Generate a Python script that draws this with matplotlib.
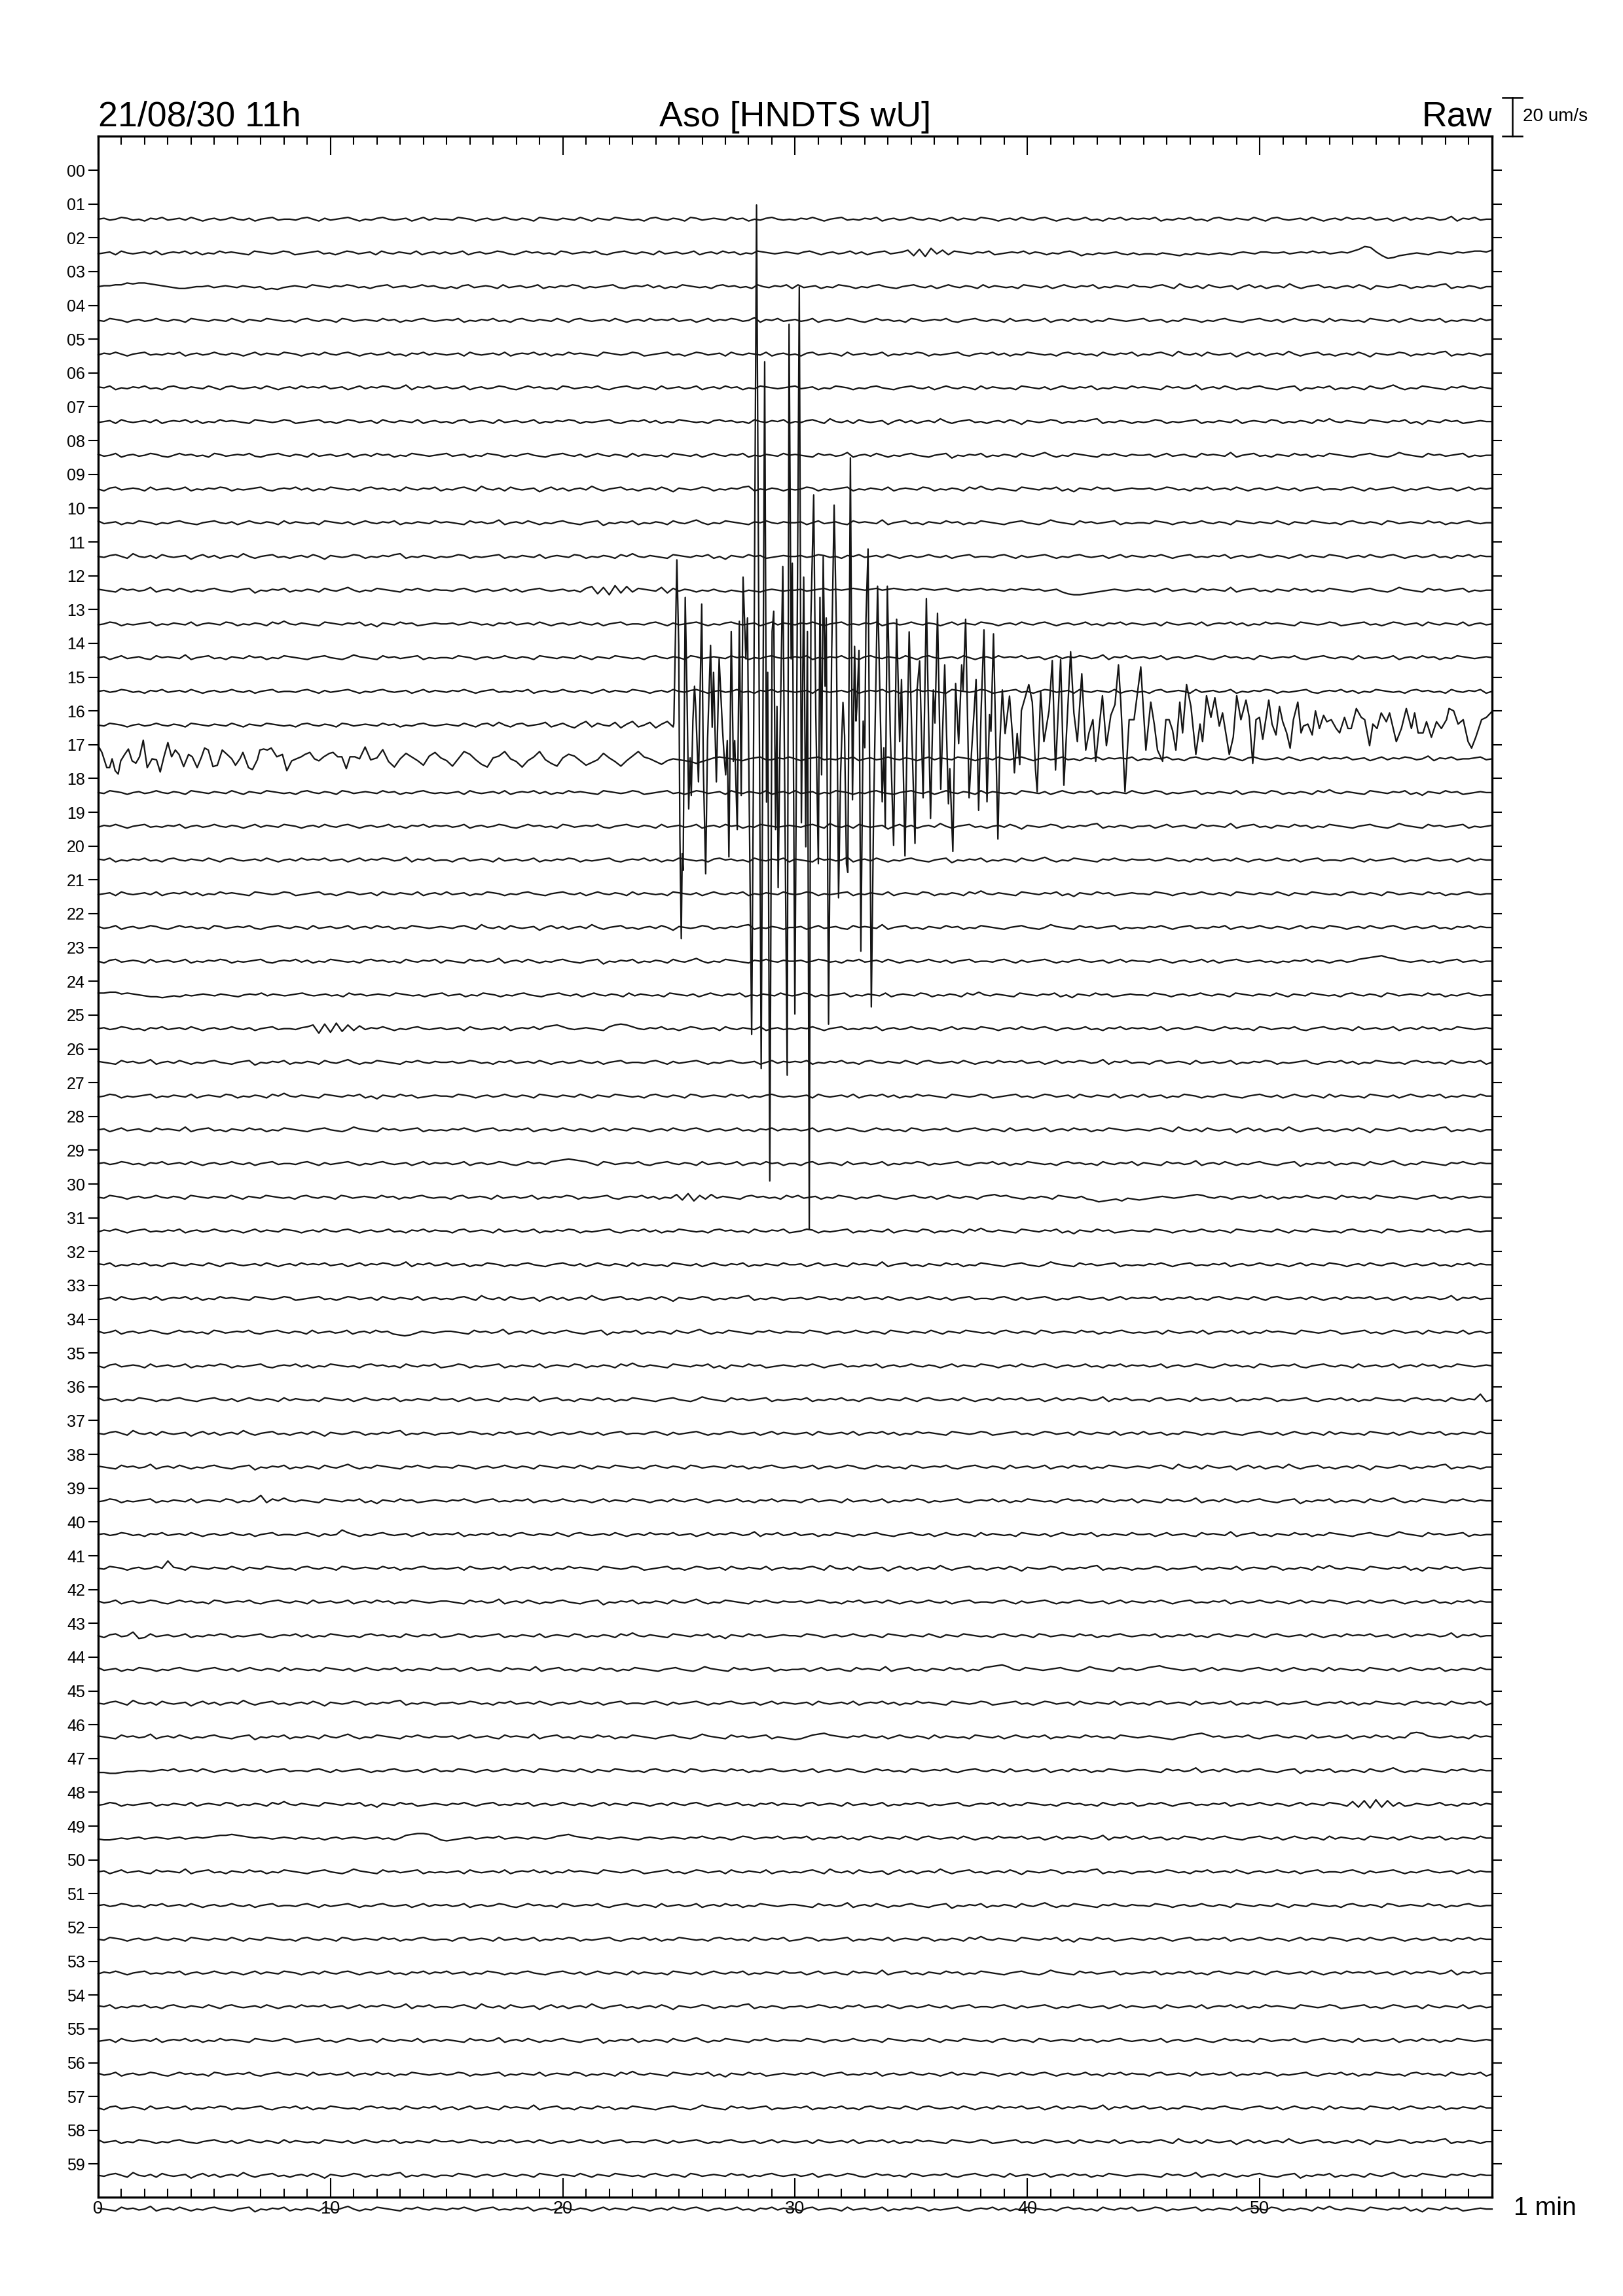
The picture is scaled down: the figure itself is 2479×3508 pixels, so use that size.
import numpy as np
import matplotlib.pyplot as plt

plt.rcParams['font.family'] = ['Liberation Sans', 'DejaVu Sans']

# header / footer text
date_label = '21/08/30 11h'
station_label = 'Aso [HNDTS wU]'
mode_label = 'Raw'
scale_label = '20 um/s'
time_label = '1 min'

row_labels = ['%02d' % i for i in range(60)]
minute_ticks = [0, 10, 20, 30, 40, 50]

# traces are written one character per 15 s sample: 'm' = baseline,
# each letter step = 0.027 row (about 0.47 um/s)
code_step = 0.027
scale_um = 20.0
um_per_row = 17.5

seg_a = "mnlmonlmknmolmnlomkmnlmomlnkmnolmmlnomknlmnomkmlnomlmnkmolnm"
seg_b = "mlonmkmnlmomlnmkonmlnmlomknmlonmlmknomlnmkonlmnmlomnkmlnomlm"
seg_c = "lnmomkmnolmlnmokmnlmomlnmkmolnmlonmkmnlomlnomkmnlmolmknmolnm"
seg_d = "nmokmlnmolmknomlnmlomknomlmnlomkmnlomnmolmnkmolnmonlmpknmolm"
seg_e = "lmnkomlmnlokmnmolnkmlomnmlkonmlmonklmnolmkmonlmnkomlnmlokmnl"
seg_f = "nlmokmnlmonlkmomnlmkonlmnmolkmnomlnmkolmnlmokmnlomnkmlonmlmn"
seg_g = "mknolmnmkolmnlmokmlnmonkmlmnolkmnmolnkmlonmlmknomnlmkomlnmok"
seg_h = "olmnkmlonmkmlnomlkmnomlnkmomlnmkolnmlmkonmlnkmomlnmokmlnmlom"
seg_i = "mlnomkpmlnkomlmnjmolnkmnlpmkmnolmkmnlomjnmlmonkmlnmopkmlnmkm"
seg_j = "nmlkomnlmpkmnlomkmlnomlkmnojmlnmokmlnmkomlnpmkmlonmlknmomlnm"
seg_k = "lmonkmlmnokmlnmlokmnmlonkmlnmkompmlnmlkonmlnmokmjnmlomnklmnm"
seg_l = "mnkmolmnlkomnmlpkmnolmknmlomnkmlonmlkmnomlkmpnmlkomnlmnokmlm"

trace_codes = [
    seg_a + seg_b + seg_c + seg_d + "m",
    seg_e + seg_f + "mlnomkmnlmolnkmnolmnpjqirlpkonmlnmoklmnmolnmkmlnomjlkmlmnlkm"
    + "kllkmlkjlkmlklmlkmnmlnnmmnlmnmomnlmnmoqtsnjghjklmlkmnmlnmnoon" + "p",
    "mnnooqpqqponmlkklmmnlmnmlnmlmjkjlmnmlonmlnmonlmkmnolmnlmomnlk" + seg_g + seg_h + seg_i + "m",
    seg_b + seg_d + seg_f + seg_h + "n",
    seg_c + seg_e + seg_g + seg_i + "m",
    seg_d + seg_f + seg_h + seg_j + "l",
    seg_e + seg_g + seg_i + seg_k + "m",
    seg_f + seg_h + seg_j + seg_l + "m",
    seg_g + seg_i + seg_k + seg_a + "n",
    seg_h + seg_j + seg_l + seg_b + "m",
    seg_i + seg_k + seg_a + seg_c + "m",
    seg_j + "mlnomkmnlmolnkmnomlmnlmkoqiphrjqkonmlpjolnmkmlnlkmlkmlkmnmlm"
    + "mnlmnomnmnonmnomnonmnmonmnomlnmnomnmlnmonmnlmnkihhijklmnmlmn" + seg_l + "m",
    seg_k + seg_a + seg_c + seg_e + "m",
    seg_l + seg_b + seg_d + seg_f + "m",
    seg_a + seg_c + seg_e + seg_g + "m",
    # 15: quiet part only (0 - 24.75 min), the event follows below
    seg_b + "nmlomknolpmknolmnpkmoljnqkomlpjnqkmpjnqk",
    # 16: from 12 min to the end, the first 12 min follow below
    "nwjdmsokfptnkemurlgdnpumjdkoulhenrpkfilsnjekpuomjgkm" + "lkjhjlnonmlkmnol" + seg_c + seg_d + "mnolm",
    seg_b + seg_e + seg_h + seg_k + "m",
    seg_c + seg_f + seg_i + seg_l + "n",
    seg_d + seg_g + seg_j + seg_a + "m",
    seg_e + seg_h + seg_k + seg_b + "m",
    seg_f + seg_i + seg_l + seg_c + "m",
    seg_g + seg_j + seg_a + "mlnomkmnlmolnkmnomlmnlmkmlnmolnmkmnlmopqrsqpnmlmnlmkmnolmnlm" + "m",
    "ooppnonmlkkjklkmlmnmlnmlkmnmolnmlmnomlmnlmkomnlmnmlonmlmkmn" + seg_h + seg_k + seg_b + "m",
    "mnlmonlmknmolmnlomkmnlmomlnkmnolmmlnoqhrisjqkplnmomkmlnomlmn"
    + "lmnkomlmnlokmnmolopqomlmnmlkoqrqomlnmolmkmonlmnkomlnmlokmnlm" + seg_c + seg_f + "m",
    seg_j + seg_a + seg_d + seg_g + "m",
    seg_k + seg_b + seg_e + seg_h + "m",
    seg_l + seg_c + seg_f + seg_i + "m",
    seg_a + "nlmokmnlmonlkmomnlopqrqpomkonlmnmolkmnomlnmkolmnlmokmnlomnkm" + seg_g + seg_j + "m",
    seg_b + "mknolmnmkolmnlmokmlnmonkmlmnolkmnmolnkmlpjqiokplnmlknomnlmkom"
    + "olmnkmlonmkmlnomlkmnomlnkmomlnmknopnomlkmlnmkonmlnkjhijkilkj"
    + "klmnmlmnopomlnmkmnlmolnkmlnmomlnmkomnlmkonmlnmlkmnolmkmnlmnm" + "m",
    seg_c + seg_g + seg_k + seg_b + "m",
    seg_d + seg_h + seg_l + seg_c + "m",
    seg_e + seg_i + seg_a + seg_d + "m",
    "nlmokmnlmonlkmomnlmkonlmnmolkmnomlnmkolmnlmokmnlomnkjijlnmlmn" + seg_j + seg_b + seg_e + "m",
    seg_g + seg_k + seg_c + seg_f + "m",
    seg_h + seg_l + seg_d + "mknolmnmkolmnlmokmlnmonkmlmnolkmnmolnkmlonmlmknomnlmkomlnmsk" + "m",
    seg_i + seg_a + seg_e + seg_h + "m",
    seg_j + seg_b + seg_f + seg_i + "m",
    "lmonkmlmnokmlnmlokmnmlonkmlnskompmlnmlkonmlnmokmjnmlomnklmnm" + seg_c + seg_g + seg_j + "m",
    "mnlmonlmknmolmnlomkmnlmomlnkmnolmmlnomknlmromkmlnomlmnkmolnm" + seg_d + seg_h + seg_l + "m",
    "mlonmkmnlmomunmkonmlnmlomknmlonmlmknomlnmkonlmnmlomnkmlnomlm" + seg_e + seg_i + seg_k + "m",
    seg_f + seg_j + seg_a + seg_c + "m",
    "mknolmqjkolmnlmokmlnmonkmlmnolkmnmolnkmlonmlmknomnlmkomlnmok" + seg_k + seg_b + seg_d + "m",
    seg_h + seg_l + "mnkmolmnlkomnmlpkmnolmknmlomnkmlopqrpmlonmlmnomlkmpnmlkomnlm"
    + "opqonmlmnkmolnmlkmnomlnkmomlnmkolnmlmkonmlnkmomlnmokmlnmlom" + "m",
    seg_i + seg_a + seg_e + seg_g + "m",
    seg_j + "mnkmolmnlkomnmlpkmnolmknmlomnkmlonmlkmnomlkmpnmlkomnlmnokmlk"
    + "jkmopqonmlnmomlnkmomlnmkolnmlmkonmlnkmomlnmokmlnmlomnlmkonml"
    + "mnmlkjlmopqomnlmnmolkmnomlnmkolmnlmokmnlomnkmlqrqnmlmnlmkomn" + "m",
    "kkjjkllmmlmnmolmnlomkmnlmomlnkmnolmmlnomknlmnomkmlnomlmnkmol" + seg_b + seg_f + seg_j + "m",
    seg_k + seg_c + seg_g + "lnmomkmnolmlnmokmnlmomlnmkmolnmlonmkpjqirjqkoklnmlmolmknmoln" + "m",
    "lkklmlmnlmnmlmnlmnmnoppqponmnmlmnmlnmlmkmnlmnmlmnlmkmpqrrqnk"
    + "jklmnlmnmolmnmlnmlmopqonmlnmlmnmlkmnmlmnmlnmomlnmkmonlmnmolm" + seg_d + seg_h + "m",
    seg_l + seg_e + seg_i + seg_a + "m",
    seg_a + seg_f + seg_j + seg_b + "m",
    seg_b + seg_g + seg_k + seg_c + "m",
    seg_c + seg_h + seg_l + seg_d + "m",
    seg_d + seg_i + seg_a + seg_e + "m",
    seg_e + seg_j + seg_b + seg_f + "m",
    seg_f + seg_k + seg_c + seg_g + "m",
    seg_g + seg_l + seg_d + seg_h + "m",
    seg_h + seg_a + seg_e + seg_i + "m",
    seg_i + seg_b + seg_f + seg_j + "m",
    seg_j + seg_c + seg_g + seg_k + "m",
]

# trace 15: the big event, minutes and offsets in rows (up = positive)
event_t = [24.78, 24.91, 24.99, 25.04, 25.10, 25.14, 25.18, 25.27, 25.35, 25.42,
           25.48, 25.53, 25.60, 25.67, 25.72, 25.84, 25.98, 26.05, 26.15, 26.23,
           26.36, 26.43, 26.49, 26.61, 26.73, 26.87, 26.94, 27.01, 27.08, 27.15,
           27.25, 27.34, 27.40, 27.51, 27.60, 27.68, 27.76, 27.88, 27.95, 28.00,
           28.13, 28.20, 28.34, 28.54, 28.69, 28.77, 28.82, 28.91, 29.01, 29.08,
           29.16, 29.22, 29.27, 29.35, 29.47, 29.66, 29.74, 29.83, 29.88, 29.99,
           30.18, 30.27, 30.37, 30.46, 30.53, 30.61, 30.68, 30.80, 30.89, 31.00,
           31.07, 31.14, 31.21, 31.29, 31.34, 31.44, 31.57, 31.68, 31.77, 31.87,
           31.96, 32.06, 32.13, 32.21, 32.27, 32.38, 32.47, 32.56, 32.62, 32.66,
           32.75, 32.83, 32.93, 33.00, 33.05, 33.14, 33.28, 33.38, 33.55, 33.75,
           33.82, 33.88, 33.97, 34.03, 34.10, 34.24, 34.37, 34.50, 34.58, 34.73,
           34.82, 34.91, 35.03, 35.16, 35.25, 35.36, 35.51, 35.65, 35.74, 35.83,
           35.95, 36.02, 36.13, 36.27, 36.44, 36.60, 36.66, 36.79, 36.91, 37.04,
           37.17, 37.23, 37.34, 37.49, 37.60, 37.79, 37.90, 38.01, 38.13, 38.26,
           38.37, 38.43, 38.54, 38.73, 38.82, 38.92, 39.04, 39.23, 39.37, 39.44,
           39.56, 39.67, 39.74, 40.06, 40.21, 40.35, 40.42, 40.57, 40.71, 40.93,
           41.07, 41.21, 41.43, 41.57, 41.86, 42.00, 42.15, 42.34, 42.51, 42.65,
           42.82, 42.94, 43.23, 43.40, 43.59, 43.77, 43.92, 44.02, 44.20, 44.38,
           44.59, 44.88, 45.10, 45.31, 45.46, 45.60, 45.82, 45.96, 46.10, 46.25,
           46.39, 46.56, 46.68, 46.85, 47.04, 47.25, 47.43, 47.54, 47.71, 47.90,
           48.07, 48.26, 48.40, 48.69, 48.86, 49.01, 49.19, 49.41, 49.55, 49.70,
           49.84, 49.99, 50.13, 50.39, 50.53, 50.70, 50.85, 50.99, 51.16, 51.31,
           51.45, 51.64, 51.78, 51.88, 52.07, 52.26, 52.40, 52.57, 52.75, 52.89,
           53.08, 53.29, 53.44, 53.65, 53.80, 53.94, 54.16, 54.37, 54.52, 54.73,
           54.87, 55.05, 55.23, 55.45, 55.59, 55.88, 56.10, 56.31, 56.53, 56.67,
           56.82, 57.03, 57.18, 57.39, 57.61, 57.82, 58.04, 58.15, 58.35, 58.54,
           58.76, 58.97, 59.12, 59.30, 59.55, 59.76, 59.98]
event_v = [0.05, 4.89, 2.36, -3.29, -6.32, -3.80, -4.30, 3.78, 0.75, -2.48,
           -0.97, -2.08, 0.14, 1.15, 0.55, -1.68, 3.58, -1.27, -4.40, -0.46,
           2.36, -0.06, 1.56, -1.68, 1.96, -0.06, -0.87, -1.47, -0.46, -3.90,
           2.77, -1.07, -0.46, -3.09, 3.07, -2.08, 4.38, 1.96, 3.17, -0.67,
           -9.15, -2.08, 15.39, -10.16, 10.75, -2.28, 1.56, -13.49, 2.77, 3.37,
           -3.09, 0.55, -4.81, -0.46, 4.69, -10.36, 11.86, 1.96, 4.79, -8.55,
           12.97, -2.89, 4.38, -3.60, 2.77, -14.91, 3.17, 6.81, 0.34, -4.10,
           3.78, -1.47, 4.99, 1.15, 3.17, -8.85, 1.96, 6.51, 3.17, -5.11,
           -1.41, 0.67, -0.31, -4.11, -4.36, 7.91, -2.21, 2.33, 0.12, 0.55,
           2.21, -6.69, 0.12, -0.67, 3.13, 5.21, -8.34, -2.52, 4.11, -2.27,
           -0.67, -3.01, 4.11, 2.15, -0.31, -3.56, 3.13, -0.49, 1.35, -3.87,
           -0.43, 2.76, -0.43, -3.50, 1.04, 1.90, -2.15, 3.74, 0.31, -2.76,
           1.04, 0.06, 3.31, -1.90, 1.78, -2.33, -1.29, -3.74, 1.23, -0.55,
           1.78, 1.04, 3.13, -2.15, -0.74, 1.35, -2.52, 0.49, 2.82, -2.27,
           0.31, -0.18, 2.70, -3.37, -0.43, 1.04, -0.25, 0.86, -0.43, -1.41,
           -0.25, -1.17, 0.43, 1.20, 0.68, -1.33, -1.97, 1.00, -0.49, 0.42,
           1.91, -1.33, 1.94, -1.78, 2.17, 0.36, -0.49, 1.52, -0.74, -0.23,
           0.16, -1.07, 0.87, -0.61, 0.29, 0.61, 1.78, 0.68, -1.97, 0.16,
           0.16, 1.72, -0.74, 0.68, 0.03, -0.74, -1.07, 0.16, 0.16, -0.16,
           -0.74, 0.68, -0.23, 1.20, 0.55, -0.87, 0.03, -0.49, 0.87, 0.23,
           0.81, -0.03, 0.36, -0.87, -0.36, 0.87, 0.16, 0.74, 0.23, -1.13,
           0.16, 0.23, -0.42, 0.74, 0.03, -0.29, 0.55, 0.10, -0.23, -0.68,
           0.16, 0.68, -0.23, -0.03, 0.03, -0.29, 0.42, -0.10, 0.29, 0.10,
           0.16, -0.10, -0.23, 0.23, -0.10, -0.10, 0.49, 0.23, 0.16, -0.61,
           0.03, -0.10, 0.36, 0.10, 0.36, -0.49, -0.10, 0.49, -0.10, 0.36,
           -0.23, -0.23, 0.10, -0.36, 0.10, -0.10, 0.16, 0.49, 0.42, 0.03,
           0.16, -0.49, -0.68, -0.36, 0.16, 0.23, 0.39]

# trace 16: coda of the event during its first 12 minutes
coda_t = [0.03, 0.16, 0.37, 0.49, 0.60, 0.73, 0.86, 0.97, 1.14, 1.30,
          1.46, 1.62, 1.78, 1.94, 2.11, 2.32, 2.51, 2.67, 2.83, 3.00,
          3.16, 3.32, 3.48, 3.68, 3.89, 4.05, 4.26, 4.45, 4.58, 4.74,
          4.94, 5.13, 5.34, 5.55, 5.75, 5.91, 6.10, 6.23, 6.47, 6.64,
          6.85, 6.96, 7.12, 7.28, 7.45, 7.69, 7.93, 8.12, 8.33, 8.53,
          8.74, 8.90, 9.11, 9.31, 9.50, 9.71, 9.95, 10.11, 10.31, 10.49,
          10.68, 10.84, 11.05, 11.25, 11.49, 11.73]
coda_v = [0.35, 0.19, -0.26, -0.26, 0.0, -0.35, -0.45, -0.06, 0.13, 0.29,
          -0.06, -0.13, 0.06, 0.55, -0.26, 0.0, -0.03, -0.39, 0.06, 0.48,
          0.06, 0.26, 0.13, -0.23, 0.13, 0.06, -0.26, 0.06, 0.32, 0.26,
          -0.23, -0.19, 0.26, 0.13, 0.0, -0.19, 0.0, 0.19, -0.26, -0.32,
          -0.03, 0.26, 0.29, 0.26, 0.32, 0.06, 0.13, -0.35, -0.06, 0.0,
          0.06, 0.13, 0.19, 0.0, -0.06, 0.06, 0.16, 0.19, 0.06, 0.06,
          -0.29, 0.06, 0.06, 0.0, 0.35, -0.03]

fig = plt.figure(figsize=(2479 / 300, 3508 / 300), dpi=300)
ax = fig.add_axes([0.0605, 0.04304, 0.8588, 0.8977])

for k, code in enumerate(trace_codes):
    vals = np.array([ord(c) - ord('m') for c in code], dtype=float) * code_step
    if k == 15:
        t = np.concatenate([np.linspace(0, 24.75, len(vals)), event_t])
        vals = np.concatenate([vals, event_v])
    elif k == 16:
        t = np.concatenate([coda_t, np.linspace(12, 60, len(vals))])
        vals = np.concatenate([coda_v, vals])
    else:
        t = np.linspace(0, 60, len(vals))
    base = 1.45 + 0.998 * k
    ax.plot(t, base - vals, color='#151515', lw=0.55, clip_on=False)

ax.set_xlim(0, 60)
ax.set_ylim(59.98, -1.01)

ax.set_xticks(minute_ticks)
ax.set_xticklabels([str(m) for m in minute_ticks])
ax.set_xticks(range(0, 61), minor=True)
ax.tick_params(axis='x', which='major', direction='in', length=7, width=0.5,
               top=True, labelsize=6.5, pad=1.2)
ax.tick_params(axis='x', which='minor', direction='in', length=3.2, width=0.5, top=True)

ax.set_yticks(range(60))
ax.set_yticklabels(row_labels)
ax.tick_params(axis='y', direction='out', length=3.6, width=0.5, right=True,
               labelsize=6, pad=1.2)
for sp in ax.spines.values():
    sp.set_linewidth(0.8)

# header
ax.text(0, 1.0048, date_label, transform=ax.transAxes, fontsize=12.9,
        ha='left', va='baseline')
ax.text(0.5, 1.0048, station_label, transform=ax.transAxes, fontsize=12.9,
        ha='center', va='baseline')
ax.text(1.0, 1.0048, mode_label, transform=ax.transAxes, fontsize=12.9,
        ha='right', va='baseline')
ax.text(1.0155, -0.0054, time_label, transform=ax.transAxes, fontsize=9.4,
        ha='left', va='center')

# amplitude scale bar
bar_len = scale_um / um_per_row
bar_x = 60.88
bar_bottom = -1.01
bar_top = bar_bottom - bar_len
ax.plot([bar_x, bar_x], [bar_bottom, bar_top], color='k', lw=0.6, clip_on=False)
ax.plot([bar_x - 0.42, bar_x + 0.42], [bar_top, bar_top], color='k', lw=0.6, clip_on=False)
ax.plot([bar_x - 0.42, bar_x + 0.42], [bar_bottom, bar_bottom], color='k', lw=0.6, clip_on=False)
ax.text(bar_x + 0.45, (bar_top + bar_bottom) / 2, scale_label, fontsize=6.7,
        ha='left', va='center')

fig.savefig('out.png', dpi=300)
